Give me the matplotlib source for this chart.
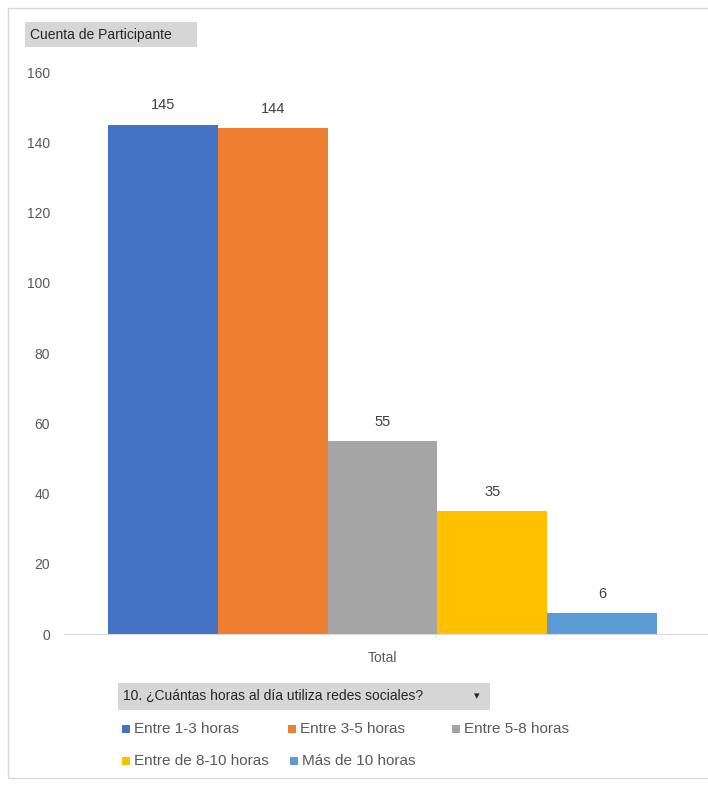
import matplotlib.pyplot as plt
from matplotlib.patches import Rectangle

series = ["Entre 1-3 horas", "Entre 3-5 horas", "Entre 5-8 horas",
          "Entre de 8-10 horas", "Más de 10 horas"]
values = [145, 144, 55, 35, 6]
colors = ["#4472C4", "#ED7D31", "#A5A5A5", "#FFC000", "#5B9BD5"]
category = "Total"
yticks = [0, 20, 40, 60, 80, 100, 120, 140, 160]

plt.rcParams["font.family"] = ["Liberation Sans", "DejaVu Sans"]

W, H = 708, 785
fig = plt.figure(figsize=(W / 100, H / 100), dpi=100)

# axes placed in pixel terms
ax_l, ax_r, ax_t, ax_b = 64, 708, 72, 634
ax = fig.add_axes([ax_l / W, 1 - ax_b / H, (ax_r - ax_l) / W, (ax_b - ax_t) / H])

x = range(len(values))
bars = ax.bar(x, values, width=1.0, color=colors)
for b, v in zip(bars, values):
    ax.text(b.get_x() + b.get_width() / 2, v + 3.5, str(v), ha="center", va="bottom",
            fontsize=10.5, color="#404040")

ax.set_ylim(0, 160)
ax.set_xlim(-0.9007, 4.964)
ax.set_yticks(yticks)
ax.set_yticklabels([str(t) for t in yticks], color="#595959", fontsize=10)
ax.set_xticks([2])
ax.set_xticklabels([category], color="#595959", fontsize=10)
ax.tick_params(axis="both", length=0)
ax.tick_params(axis="y", pad=10)
ax.tick_params(axis="x", pad=12)
for s in ["top", "right", "left"]:
    ax.spines[s].set_visible(False)
ax.spines["bottom"].set_color("#D9D9D9")

# outer border
fig.patches.append(Rectangle((8 / W, 1 - 778 / H), 1.0, 770 / H, transform=fig.transFigure,
                             fill=False, edgecolor="#D9D9D9", lw=1))

# "Cuenta de Participante" field button
fig.patches.append(Rectangle((25 / W, 1 - 47 / H), 172 / W, 25 / H, transform=fig.transFigure,
                             facecolor="#D6D6D6", edgecolor="none"))
fig.text(30 / W, 1 - 35 / H, "Cuenta de Participante", fontsize=10, color="#262626", va="center")

# legend field button
fig.patches.append(Rectangle((118 / W, 1 - 710 / H), 372 / W, 27 / H, transform=fig.transFigure,
                             facecolor="#D6D6D6", edgecolor="none"))
fig.text(123 / W, 1 - 696 / H, "10. ¿Cuántas horas al día utiliza redes sociales?", fontsize=10,
         color="#262626", va="center")
fig.text(477 / W, 1 - 696 / H, "▾", fontsize=8, color="#262626", va="center", ha="center",
         family="DejaVu Sans")

# legend entries
pos = [(122, 729), (288, 729), (452, 729), (122, 761), (290, 761)]
for (px, py), name, c in zip(pos, series, colors):
    fig.patches.append(Rectangle((px / W, 1 - (py + 4) / H), 8 / W, 8 / H,
                                 transform=fig.transFigure, facecolor=c, edgecolor="none"))
    fig.text((px + 12) / W, 1 - py / H, name, fontsize=11, color="#595959", va="center")

fig.savefig("out.png", dpi=100)
